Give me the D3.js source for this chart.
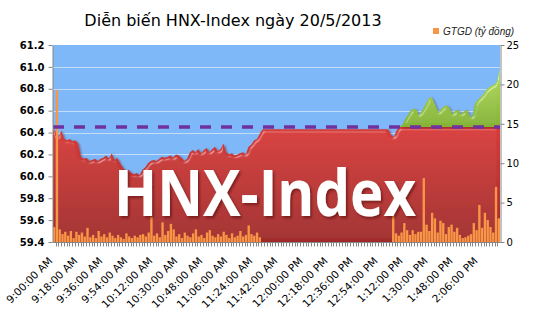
<!DOCTYPE html>
<html>
<head>
<meta charset="utf-8">
<script src="https://cdn.jsdelivr.net/npm/d3@7"></script>
<style>
  body { margin: 0; background: #fff; }
  svg { display: block; font-family: "DejaVu Sans", Verdana, sans-serif; }
</style>
</head>
<body>
<svg id="chart" width="535" height="335"></svg>
<script>
// HNX-Index, one value every 2 minutes from 9:00 AM
const indexValues = [
  60.44, 60.40, 60.36, 60.42, 60.34, 60.33, 60.34, 60.32, 60.33, 60.30,
  60.18, 60.16, 60.17, 60.14, 60.15, 60.16, 60.14, 60.16, 60.17, 60.19,
  60.16, 60.21, 60.15, 60.17, 60.12, 60.08, 60.05, 60.06, 60.03, 60.02,
  60.03, 60.01, 60.06, 60.08, 60.12, 60.14, 60.15, 60.14, 60.16, 60.18,
  60.17, 60.18, 60.19, 60.17, 60.20, 60.19, 60.17, 60.14, 60.16, 60.22,
  60.24, 60.22, 60.25, 60.21, 60.24, 60.26, 60.22, 60.25, 60.27, 60.23,
  60.25, 60.30, 60.22, 60.20, 60.21, 60.19, 60.20, 60.21, 60.22, 60.20,
  60.27, 60.29, 60.33, 60.34, 60.39,
  60.43, 60.43, 60.43, 60.43, 60.43, 60.43, 60.43, 60.43, 60.43, 60.43,
  60.43, 60.43, 60.43, 60.43, 60.43, 60.43, 60.43, 60.43, 60.43, 60.43,
  60.43, 60.43, 60.43, 60.43, 60.43, 60.43, 60.43, 60.43, 60.43, 60.43,
  60.43, 60.43, 60.43, 60.43, 60.43, 60.43, 60.43, 60.43, 60.43, 60.43,
  60.43, 60.43, 60.43, 60.43, 60.43,
  60.43, 60.38, 60.36, 60.42, 60.45, 60.47, 60.52, 60.56, 60.60, 60.62,
  60.61, 60.56, 60.60, 60.64, 60.69, 60.73, 60.70, 60.64, 60.58, 60.62,
  60.64, 60.65, 60.62, 60.57, 60.60, 60.61, 60.57, 60.59, 60.61, 60.56,
  60.54, 60.66, 60.70, 60.72, 60.75, 60.79, 60.81, 60.83, 60.84, 60.87, 60.98
];

// GTGD (tỷ đồng)
const volumes = [
  1.9, 19.3, 1.6, 1.0, 1.3, 0.8, 1.4, 0.5, 1.3, 0.9,
  1.2, 0.7, 1.8, 0.6, 0.9, 0.5, 1.4, 0.7, 1.0, 0.6,
  1.2, 0.8, 0.5, 0.9, 0.6, 0.4, 1.1, 0.7, 0.5, 0.8,
  0.6, 0.9, 1.0, 0.7, 1.2, 3.2, 0.8, 1.1, 0.6, 2.5,
  0.9, 1.4, 2.3, 1.6, 0.7, 1.0, 0.5, 1.2, 0.8, 0.6,
  1.1, 1.6, 0.7, 0.9, 0.5, 1.2, 1.5, 0.8, 0.6, 1.0,
  0.7, 1.3, 0.9, 0.5, 1.1, 0.6, 0.8, 1.4, 0.7, 0.9,
  2.1, 1.0, 0.8, 1.2, 0.6,
  0, 0, 0, 0, 0, 0, 0, 0, 0, 0,
  0, 0, 0, 0, 0, 0, 0, 0, 0, 0,
  0, 0, 0, 0, 0, 0, 0, 0, 0, 0,
  0, 0, 0, 0, 0, 0, 0, 0, 0, 0,
  0, 0, 0, 0, 0,
  0, 0, 3.4, 1.1, 0.8, 1.2, 2.4, 1.5, 0.9, 1.5,
  1.0, 1.3, 1.3, 8.1, 2.2, 1.4, 3.7, 3.0, 1.2, 2.7,
  2.4, 1.0, 1.9, 2.2, 1.3, 1.8, 0.9, 0.5, 0.6, 0.8,
  1.0, 2.4, 1.5, 4.7, 1.8, 3.7, 2.8, 1.9, 1.2, 7.0, 3.0
];

const refLevel = 60.45;

const xLabels = [
  "9:00:00 AM", "9:18:00 AM", "9:36:00 AM", "9:54:00 AM", "10:12:00 AM", "10:30:00 AM",
  "10:48:00 AM", "11:06:00 AM", "11:24:00 AM", "11:42:00 AM", "12:00:00 PM", "12:18:00 PM",
  "12:36:00 PM", "12:54:00 PM", "1:12:00 PM", "1:30:00 PM", "1:48:00 PM", "2:06:00 PM"
];
const leftTicks = [59.4, 59.6, 59.8, 60.0, 60.2, 60.4, 60.6, 60.8, 61.0, 61.2];
const rightTicks = [0, 5, 10, 15, 20, 25];

const fmt = d3.timeFormat("%-I:%M:%S %p");
const times = indexValues.map((_, i) => fmt(new Date(2013, 4, 20, 9, 2 * i)));

const svg = d3.select("#chart");
const plot = { left: 53, right: 500, top: 45, bottom: 242 };

const x = d3.scalePoint().domain(times).range([plot.left, plot.right]);
const xb = d3.scaleBand().domain(times).range([plot.left, plot.right]).paddingInner(0.15);
const y = d3.scaleLinear().domain([59.4, 61.2]).range([plot.bottom, plot.top]);
const yR = d3.scaleLinear().domain([0, 25]).range([plot.bottom, plot.top]);

const defs = svg.append("defs");
const redGrad = defs.append("linearGradient").attr("id", "redGrad").attr("x1", 0).attr("x2", 0).attr("y1", 0).attr("y2", 1);
redGrad.append("stop").attr("offset", "0%").attr("stop-color", "#d83c3a");
redGrad.append("stop").attr("offset", "100%").attr("stop-color", "#a02a29");
const greenGrad = defs.append("linearGradient").attr("id", "greenGrad").attr("x1", 0).attr("x2", 0).attr("y1", 0).attr("y2", 1);
greenGrad.append("stop").attr("offset", "0%").attr("stop-color", "#b4da60");
greenGrad.append("stop").attr("offset", "100%").attr("stop-color", "#84b334");

const bevel = defs.append("filter").attr("id", "bevel").attr("x", "-5%").attr("y", "-10%").attr("width", "110%").attr("height", "120%");
bevel.append("feGaussianBlur").attr("in", "SourceAlpha").attr("stdDeviation", 1.6).attr("result", "blur");
const spec = bevel.append("feSpecularLighting").attr("in", "blur").attr("surfaceScale", 3)
  .attr("specularConstant", 0.6).attr("specularExponent", 32).attr("lighting-color", "#fff").attr("result", "spec");
spec.append("feDistantLight").attr("azimuth", 235).attr("elevation", 40);
bevel.append("feComposite").attr("in", "spec").attr("in2", "SourceAlpha").attr("operator", "in").attr("result", "specIn");
bevel.append("feComposite").attr("in", "SourceGraphic").attr("in2", "specIn").attr("operator", "arithmetic")
  .attr("k1", 0).attr("k2", 1).attr("k3", 0.45).attr("k4", 0).attr("result", "lit");
bevel.append("feDropShadow").attr("dx", 1.2).attr("dy", 1).attr("stdDeviation", 0.8).attr("flood-color", "#4a1010").attr("flood-opacity", 0.5);

const txtShadow = defs.append("filter").attr("id", "txtShadow");
txtShadow.append("feDropShadow").attr("dx", 2).attr("dy", 2).attr("stdDeviation", 1.5).attr("flood-color", "#3a0000").attr("flood-opacity", 0.5);

defs.append("clipPath").attr("id", "plotClip").append("rect")
  .attr("x", plot.left).attr("y", plot.top).attr("width", plot.right - plot.left).attr("height", plot.bottom - plot.top);

// title + legend
svg.append("text").attr("x", 233).attr("y", 26).attr("text-anchor", "middle")
  .attr("font-size", 16).attr("fill", "#000").text("Diễn biến HNX-Index ngày 20/5/2013");
svg.append("rect").attr("x", 433).attr("y", 28).attr("width", 6).attr("height", 6).attr("fill", "#f79646");
svg.append("text").attr("x", 443).attr("y", 35).attr("font-family", "'Liberation Sans', Arial, sans-serif")
  .attr("font-size", 10).attr("font-style", "italic").attr("fill", "#222").text("GTGD (tỷ đồng)");

// plot background + grid
svg.append("rect").attr("x", plot.left).attr("y", plot.top).attr("width", plot.right - plot.left)
  .attr("height", plot.bottom - plot.top).attr("fill", "#7fb8f8");
svg.append("g").selectAll("line").data(leftTicks.slice(1, -1)).join("line")
  .attr("x1", plot.left).attr("x2", plot.right)
  .attr("y1", d => Math.round(y(d)) + 0.5).attr("y2", d => Math.round(y(d)) + 0.5)
  .attr("stroke", "#c4def9").attr("stroke-width", 1);

const body = svg.append("g").attr("clip-path", "url(#plotClip)");

const redArea = d3.area().x((d, i) => x(times[i])).y0(plot.bottom).y1(d => y(Math.min(d, refLevel)));
body.append("path").datum(indexValues).attr("d", redArea).attr("fill", "url(#redGrad)").attr("filter", "url(#bevel)");

const greenArea = d3.area().x((d, i) => x(times[i])).y0(y(refLevel)).y1(d => y(Math.max(d, refLevel)));
body.append("path").datum(indexValues).attr("d", greenArea).attr("fill", "url(#greenGrad)").attr("filter", "url(#bevel)");

// watermark text
const wm = svg.append("text").attr("x", 0).attr("y", 0).attr("text-anchor", "middle")
  .attr("font-family", "'Open Sans', 'Noto Sans', sans-serif").attr("font-weight", "bold")
  .attr("font-size", 64).attr("fill", "#fff").attr("filter", "url(#txtShadow)").text("HNX-Index");
const wmLen = wm.node().getComputedTextLength();
wm.attr("transform", `translate(265,216) scale(${302 / wmLen},1)`);

// volume bars
body.append("g").selectAll("rect").data(volumes).join("rect")
  .attr("x", (d, i) => xb(times[i]))
  .attr("width", xb.bandwidth())
  .attr("y", d => yR(d))
  .attr("height", d => plot.bottom - yR(d))
  .attr("fill", "#f79646");

// reference line
svg.append("line").attr("x1", plot.left).attr("x2", plot.right)
  .attr("y1", y(refLevel)).attr("y2", y(refLevel))
  .attr("stroke", "#7030a0").attr("stroke-width", 3.5).attr("stroke-dasharray", "11,10");

// axes
const axisColor = "#868686";
const left = svg.append("g").attr("transform", `translate(${plot.left - 0.5},0)`)
  .call(d3.axisLeft(y).tickValues(leftTicks).tickFormat(d3.format(".1f")).tickSize(4).tickSizeOuter(0));
left.select(".domain").attr("stroke", axisColor);
left.selectAll(".tick line").attr("stroke", axisColor);
left.selectAll(".tick text").attr("font-family", "'DejaVu Sans', sans-serif").attr("font-weight", "bold")
  .attr("font-size", 10).attr("fill", "#000").attr("x", -8);

const right = svg.append("g").attr("transform", `translate(${plot.right + 0.5},0)`)
  .call(d3.axisRight(yR).tickValues(rightTicks).tickSize(4).tickSizeOuter(0));
right.select(".domain").attr("stroke", axisColor);
right.selectAll(".tick line").attr("stroke", axisColor);
right.selectAll(".tick text").attr("font-family", "'DejaVu Sans', sans-serif")
  .attr("font-size", 10).attr("fill", "#000").attr("x", 6);

const bottom = svg.append("g").attr("transform", `translate(0,${plot.bottom + 0.5})`);
bottom.append("line").attr("x1", plot.left - 0.5).attr("x2", plot.right + 0.5).attr("stroke", axisColor);
bottom.selectAll(".tk").data(times.slice(1)).join("line").attr("class", "tk")
  .attr("x1", d => Math.round(xb(d) - xb.step() * xb.paddingInner() / 2) + 0.5)
  .attr("x2", d => Math.round(xb(d) - xb.step() * xb.paddingInner() / 2) + 0.5)
  .attr("y1", 0).attr("y2", 4).attr("stroke", axisColor);
bottom.selectAll(".lbl").data(xLabels).join("text").attr("class", "lbl")
  .attr("transform", d => `translate(${xb(d) + xb.bandwidth() / 2 - 1},19) rotate(-45)`)
  .attr("text-anchor", "end").attr("font-size", 10.5).attr("fill", "#000").text(d => d);
</script>
</body>
</html>
